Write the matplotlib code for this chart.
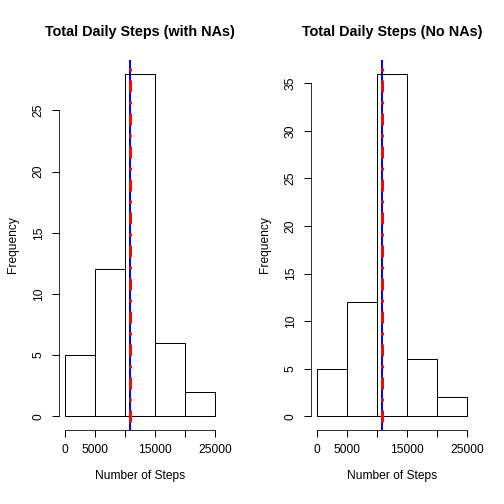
import matplotlib
matplotlib.use("Agg")
import matplotlib.pyplot as plt
import matplotlib.transforms as mtransforms
import numpy as np

plt.rcParams['font.family'] = ['Liberation Sans', 'DejaVu Sans']
plt.rcParams['lines.scale_dashes'] = False

bin_edges = [0, 5000, 10000, 15000, 20000, 25000]
counts_with_na = [5, 12, 28, 6, 2]
counts_no_na = [5, 12, 36, 6, 2]
mean_with_na = 10766.19
median_with_na = 10765
mean_no_na = 10766.19
median_no_na = 10766.19
titles = ["Total Daily Steps (with NAs)", "Total Daily Steps (No NAs)"]
xticks = [0, 5000, 10000, 15000, 20000, 25000]
xticklabels = ["0", "5000", "", "15000", "", "25000"]

fig = plt.figure(figsize=(7, 7), dpi=72)
axes_pos = [[59/504, 74/504, 162/504, 370/504],
            [311/504, 74/504, 162/504, 370/504]]

panels = [(counts_with_na, mean_with_na, median_with_na, titles[0], [0, 5, 10, 15, 20, 25]),
          (counts_no_na, mean_no_na, median_no_na, titles[1], [0, 5, 10, 15, 20, 25, 30, 35])]

for pos, (counts, mn, md, title, yt) in zip(axes_pos, panels):
    ax = fig.add_axes(pos)
    edges = np.array(bin_edges)
    widths = np.diff(edges)
    ax.bar(edges[:-1], counts, width=widths, align='edge', color='white',
           edgecolor='black', linewidth=1)
    ymax = max(counts)
    ax.set_xlim(-1000, 26000)
    ax.set_ylim(-0.04 * ymax, 1.04 * ymax)
    ax.axvline(mn, color='blue', linewidth=2, zorder=3)
    red = ax.axvline(md, color='red', linewidth=3, linestyle=(4, (3, 9, 12, 9)),
                     dash_capstyle='butt', zorder=4)
    shift = mtransforms.ScaledTranslation(0.5 / 72, 0, fig.dpi_scale_trans)
    red.set_transform(red.get_transform() + shift)
    for s in ['top', 'right']:
        ax.spines[s].set_visible(False)
    ax.spines['bottom'].set_bounds(0, 25000)
    ax.spines['left'].set_bounds(yt[0], yt[-1])
    ax.set_xticks(xticks)
    ax.set_xticklabels(xticklabels)
    ax.set_yticks(yt)
    ax.set_yticklabels([str(v) for v in yt], rotation=90, va='center')
    ax.tick_params(direction='out', length=7.2, width=1, labelsize=12, pad=7)
    ax.set_xlabel("Number of Steps", fontsize=12, labelpad=14)
    ax.set_ylabel("Frequency", fontsize=12, labelpad=14)
    ax.set_title(title, fontsize=14.4, fontweight='bold', pad=24)

fig.savefig("out.png", dpi=72)
